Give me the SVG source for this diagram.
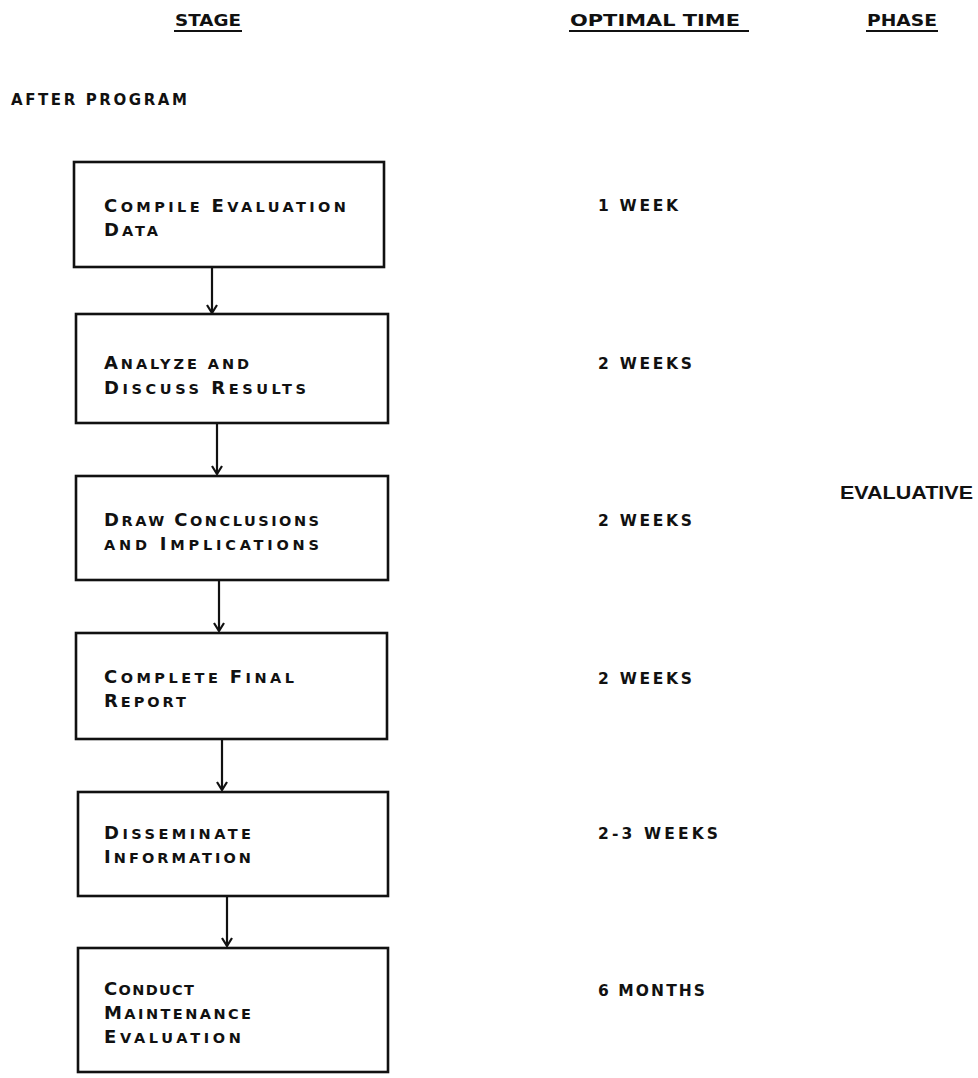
<svg xmlns="http://www.w3.org/2000/svg" width="978" height="1078" viewBox="0 0 978 1078">
<defs>
<style>
.t{font-family:"DejaVu Sans","Liberation Sans",sans-serif;font-weight:bold;font-size:14.5px;fill:#111}
.tm{font-family:"DejaVu Sans","Liberation Sans",sans-serif;font-weight:bold;font-size:15.5px;fill:#111}
.h{font-family:"DejaVu Sans","Liberation Sans",sans-serif;font-weight:600;font-size:15px;fill:#111}
.c{font-size:18px}
.ev{font-family:"Liberation Sans","DejaVu Sans",sans-serif;font-weight:bold;font-size:18px;fill:#111}
.box{fill:#fff;stroke:#111;stroke-width:2.6}
.ln{stroke:#111;stroke-width:2.2;fill:none}
.ul{stroke:#111;stroke-width:1.8}
</style>
<marker id="arr" viewBox="0 0 10 12" refX="9" refY="6" markerWidth="10" markerHeight="12" markerUnits="userSpaceOnUse" orient="auto">
<path d="M1,1 L9,6 L1,11" fill="none" stroke="#111" stroke-width="2.2"/>
</marker>
</defs>
<rect width="978" height="1078" fill="#fff"/>

<g id="headers">
<text class="h" x="175" y="26" textLength="66" lengthAdjust="spacingAndGlyphs">STAGE</text>
<line class="ul" x1="174" y1="31" x2="242" y2="31"/>
<text class="h" x="570" y="26" textLength="170" lengthAdjust="spacingAndGlyphs">OPTIMAL TIME</text>
<line class="ul" x1="569" y1="31" x2="749" y2="31"/>
<text class="h" x="867" y="26" textLength="70" lengthAdjust="spacingAndGlyphs">PHASE</text>
<line class="ul" x1="866" y1="31" x2="938" y2="31"/>
<text class="h" x="11" y="105" textLength="176" lengthAdjust="spacing">AFTER PROGRAM</text>
</g>

<g id="connectors">
<line class="ln" x1="212" y1="267" x2="212" y2="313" marker-end="url(#arr)"/>
<line class="ln" x1="217" y1="423" x2="217" y2="474" marker-end="url(#arr)"/>
<line class="ln" x1="219" y1="580" x2="219" y2="631" marker-end="url(#arr)"/>
<line class="ln" x1="222" y1="739" x2="222" y2="790" marker-end="url(#arr)"/>
<line class="ln" x1="227" y1="896" x2="227" y2="946" marker-end="url(#arr)"/>
</g>

<g id="node1">
<rect class="box" x="74" y="162" width="310" height="105"/>
<text class="t" x="104" y="212" textLength="242" lengthAdjust="spacing"><tspan class="c">C</tspan>OMPILE <tspan class="c">E</tspan>VALUATION</text>
<text class="t" x="104" y="236" textLength="54" lengthAdjust="spacing"><tspan class="c">D</tspan>ATA</text>
</g>
<g id="node2">
<rect class="box" x="76" y="314" width="312" height="109"/>
<text class="t" x="104" y="369" textLength="145" lengthAdjust="spacing"><tspan class="c">A</tspan>NALYZE AND</text>
<text class="t" x="104" y="394" textLength="202" lengthAdjust="spacing"><tspan class="c">D</tspan>ISCUSS <tspan class="c">R</tspan>ESULTS</text>
</g>
<g id="node3">
<rect class="box" x="76" y="476" width="312" height="104"/>
<text class="t" x="104" y="526" textLength="215" lengthAdjust="spacing"><tspan class="c">D</tspan>RAW <tspan class="c">C</tspan>ONCLUSIONS</text>
<text class="t" x="104" y="550" textLength="215" lengthAdjust="spacing">AND <tspan class="c">I</tspan>MPLICATIONS</text>
</g>
<g id="node4">
<rect class="box" x="76" y="633" width="311" height="106"/>
<text class="t" x="104" y="683" textLength="190" lengthAdjust="spacing"><tspan class="c">C</tspan>OMPLETE <tspan class="c">F</tspan>INAL</text>
<text class="t" x="104" y="707" textLength="82" lengthAdjust="spacing"><tspan class="c">R</tspan>EPORT</text>
</g>
<g id="node5">
<rect class="box" x="78" y="792" width="310" height="104"/>
<text class="t" x="104" y="839" textLength="147" lengthAdjust="spacing"><tspan class="c">D</tspan>ISSEMINATE</text>
<text class="t" x="104" y="863" textLength="147" lengthAdjust="spacing"><tspan class="c">I</tspan>NFORMATION</text>
</g>
<g id="node6">
<rect class="box" x="78" y="948" width="310" height="124"/>
<text class="t" x="104" y="995" textLength="90" lengthAdjust="spacing"><tspan class="c">C</tspan>ONDUCT</text>
<text class="t" x="104" y="1019" textLength="147" lengthAdjust="spacing"><tspan class="c">M</tspan>AINTENANCE</text>
<text class="t" x="104" y="1043" textLength="137" lengthAdjust="spacing"><tspan class="c">E</tspan>VALUATION</text>
</g>

<g id="times">
<text class="tm" x="598" y="211" textLength="80" lengthAdjust="spacing">1 WEEK</text>
<text class="tm" x="598" y="369" textLength="94" lengthAdjust="spacing">2 WEEKS</text>
<text class="tm" x="598" y="526" textLength="94" lengthAdjust="spacing">2 WEEKS</text>
<text class="tm" x="598" y="684" textLength="94" lengthAdjust="spacing">2 WEEKS</text>
<text class="tm" x="598" y="839" textLength="120" lengthAdjust="spacing">2-3 WEEKS</text>
<text class="tm" x="598" y="996" textLength="107" lengthAdjust="spacing">6 MONTHS</text>
</g>

<g id="phase">
<text class="ev" x="840" y="499" textLength="133" lengthAdjust="spacingAndGlyphs">EVALUATIVE</text>
</g>
</svg>
